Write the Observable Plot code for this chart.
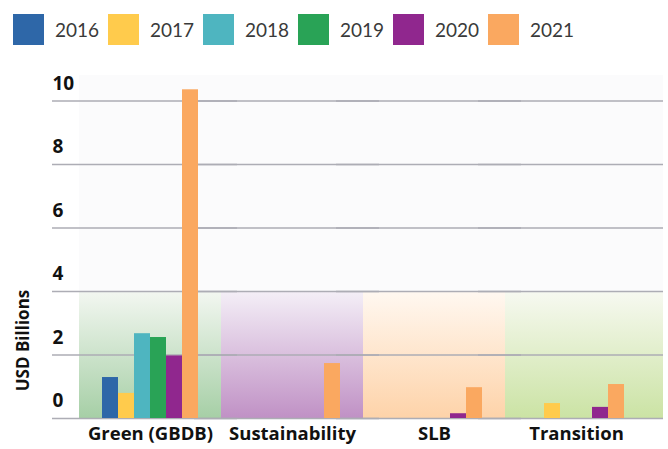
<!DOCTYPE html>
<html>
<head>
<meta charset="utf-8">
<script src="https://cdn.jsdelivr.net/npm/d3@7"></script>
<script src="https://cdn.jsdelivr.net/npm/@observablehq/plot@0.6"></script>
<style>
  body { margin: 0; background: #fff; }
  #legend { position: relative; height: 60px; width: 668px; font-family: "Lato", sans-serif; }
  .item { position: absolute; top: 14px; height: 31px; display: flex; align-items: center; }
  .sw { width: 31px; height: 31px; margin-right: 11px; }
  .lbl { font-size: 19px; font-weight: 400; color: #3a3a3a; }
</style>
</head>
<body>
<div id="legend"></div>
<div id="chart"></div>
<script>
const categories = ["Green (GBDB)", "Sustainability", "SLB", "Transition"];
const years = ["2016", "2017", "2018", "2019", "2020", "2021"];
const yearColors = ["#2e67a8", "#ffcb4c", "#4eb5c0", "#29a356", "#90278e", "#faa860"];
const greenValues = [1.29, 0.79, 2.67, 2.55, 1.97, 10.35];
const sustainabilityValues = [0, 0, 0, 0, 0, 1.73];
const slbValues = [0, 0, 0, 0, 0.15, 0.97];
const transitionValues = [0, 0.47, 0, 0, 0.35, 1.07];
const yTicks = [0, 2, 4, 6, 8, 10];
const panelTop = ["#f3f7f1", "#f4eff7", "#fff8f1", "#f7f9f1"];
const panelBottom = ["#a6cfa6", "#c091c5", "#fed3a9", "#cbe3a4"];

const seriesByCat = [greenValues, sustainabilityValues, slbValues, transitionValues];
const rows = [];
categories.forEach((c, i) => years.forEach((y, j) => {
  if (seriesByCat[i][j] > 0) rows.push({cat: c, year: y, value: seriesByCat[i][j]});
}));

// legend
const legend = document.getElementById("legend");
years.forEach((y, i) => {
  const it = document.createElement("div");
  it.className = "item";
  it.style.left = (13 + i * 95) + "px";
  it.innerHTML = `<div class="sw" style="background:${yearColors[i]}"></div><span class="lbl">${y}</span>`;
  legend.appendChild(it);
});

const panelMarks = categories.map((c, i) => Plot.rect([{cat: c}], {
  fx: "cat", y1: 0, y2: 4, fill: `url(#pg${i})`,
  insetRight: i === categories.length - 1 ? -16 : 0
}));
const upperMarks = categories.map((c, i) => Plot.rect([{cat: c}], {
  fx: "cat", y1: 4, y2: 10.8, fill: "#fbfbfc",
  insetRight: i === categories.length - 1 ? -16 : 0
}));

const svg = Plot.plot({
  width: 668,
  height: 389,
  marginLeft: 51,
  marginRight: 5,
  marginTop: 15,
  marginBottom: 31,
  style: {fontFamily: "'Open Sans', sans-serif", background: "transparent"},
  fx: {domain: categories, axis: null, paddingInner: 0, paddingOuter: 0.151, align: 0.628},
  x: {domain: years, axis: null, paddingInner: 0, paddingOuter: 1.2},
  y: {domain: [0, 10.8], axis: null},
  color: {domain: years, range: yearColors},
  marks: [
    ...panelMarks,
    ...upperMarks,
    Plot.ruleY(yTicks, {stroke: "#adadb5", strokeWidth: 1.5, insetLeft: -27, insetRight: -16}),
    Plot.barY(rows, {fx: "cat", x: "year", y: "value", fill: "year"}),
    Plot.text(yTicks.map(v => ({v, cat: categories[0]})), {
      fx: "cat", y: "v", text: d => String(d.v), frameAnchor: "left", dx: -27, dy: -17.5,
      textAnchor: "start", fontWeight: "bold", fontSize: 19, fill: "#111"
    }),
    Plot.text(categories, {
      fx: d => d, text: d => d, frameAnchor: "bottom", dy: 21,
      fontWeight: "bold", fontSize: 18.5, fill: "#111"
    }),
    Plot.text([{cat: categories[0]}], {
      fx: "cat", text: () => "USD Billions", frameAnchor: "bottom-left", rotate: -90,
      textAnchor: "middle", lineAnchor: "middle",
      dx: -56, dy: -78, fontWeight: "bold", fontSize: 17, fill: "#111"
    })
  ]
});

const defs = d3.select(svg).insert("defs", ":first-child");
categories.forEach((c, i) => {
  const g = defs.append("linearGradient").attr("id", `pg${i}`)
    .attr("x1", 0).attr("y1", 0).attr("x2", 0).attr("y2", 1);
  g.append("stop").attr("offset", "0%").attr("stop-color", panelTop[i]);
  g.append("stop").attr("offset", "100%").attr("stop-color", panelBottom[i]);
});

document.getElementById("chart").appendChild(svg);
</script>
</body>
</html>
